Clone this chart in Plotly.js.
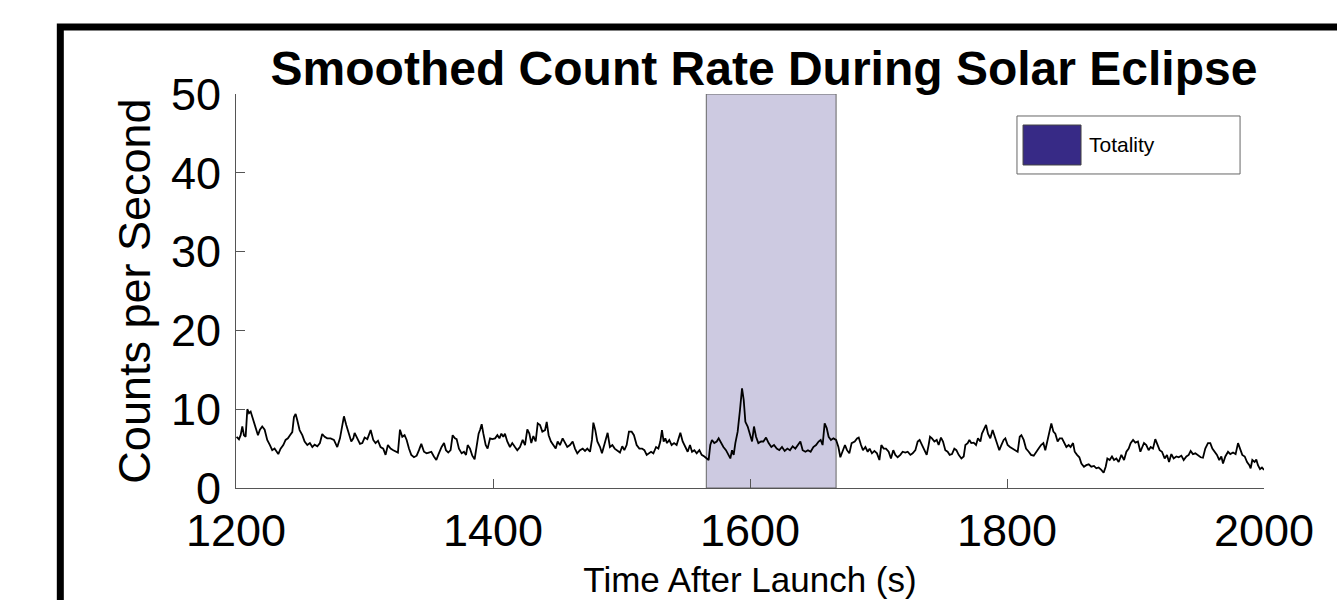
<!DOCTYPE html>
<html>
<head>
<meta charset="utf-8">
<script src="https://cdn.plot.ly/plotly-3.0.1.min.js"></script>
<style>
  html, body { margin: 0; padding: 0; background: #ffffff; }
  #chart { width: 1337px; height: 600px; }
</style>
</head>
<body>
<div id="chart"></div>
<script>
// Time after launch (s)
const timeSeconds = [
  1200.5,1202.3,1203.6,1204.9,1206.2,1207.5,1208.8,1210.1,1211.4,1212.7,1214.0,1215.3,1217.1,1218.6,1220.4,1222.3,1224.3,1226.4,1228.2,1230.0,
  1231.6,1232.9,1234.7,1236.8,1238.6,1240.4,1242.0,1243.8,1245.1,1246.4,1247.7,1249.5,1251.6,1253.4,1255.5,1257.5,1259.4,1261.2,1263.3,1265.3,
  1267.1,1269.0,1271.0,1273.6,1276.2,1278.8,1280.9,1282.7,1284.0,1285.8,1287.9,1289.7,1291.3,1292.3,1294.4,1296.5,1298.3,1300.1,1302.2,1303.5,
  1304.8,1306.8,1308.6,1310.5,1312.5,1314.6,1316.4,1318.2,1320.3,1322.4,1324.2,1326.0,1327.6,1329.4,1331.2,1332.8,1334.6,1336.4,1338.5,1340.6,
  1342.4,1344.2,1346.3,1348.3,1350.1,1352.0,1354.0,1355.9,1357.4,
  1358.8,1360.0,1361.9,1363.4,1365.2,1367.0,1368.6,1370.4,1371.7,1373.5,1375.6,1377.4,1379.0,1380.3,1382.1,1383.9,1385.7,1387.3,1388.8,1389.9,
  1391.2,1392.5,1394.3,1395.8,1397.7,1399.5,1401.6,1403.4,1405.0,1406.5,1408.0,1409.3,1411.1,1413.2,1415.0,1417.1,1418.9,1421.0,1423.1,1424.9,
  1426.7,1428.3,1429.8,1431.4,1433.2,1434.8,1436.6,1438.4,1440.5,1441.8,1443.3,1445.1,1447.0,1448.8,1450.3,1452.1,1454.2,1456.0,1457.8,1459.9,
  1462.0,1463.8,1465.6,1467.7,1469.8,1471.6,1473.4,1475.5,1477.0,1478.1,1479.6,1481.2,1483.3,1484.8,1486.4,1488.0,1489.2,1491.0,1492.9,1494.7,
  1496.8,1498.8,1500.6,1502.2,1504.0,1505.8,1507.9,1509.7,1511.8,1513.9,1516.0,1517.8,1519.6,1521.7,
  1523.0,1524.8,1526.9,1528.7,1530.2,1531.5,1532.8,1534.1,1535.4,1537.2,1539.0,1540.9,1542.9,1544.5,1545.8,1547.6,1549.7,1551.5,1553.3,1554.9,
  1556.7,1558.5,1560.6,1562.4,1564.5,1566.3,1567.8,1569.1,1570.4,1572.2,1574.1,1575.6,1577.4,1579.3,1581.3,1583.1,1584.7,1586.0,1587.3,1588.6,
  1590.4,1592.2,1593.8,1595.1,1596.4,1598.2,1600.0,1601.6,1603.1,1604.7,1606.5,1608.6,1610.4,1612.5,1614.5,1616.6,1618.7,1620.8,1622.8,1624.9,
  1627.0,1629.1,1631.1,1633.2,1635.3,1637.1,1639.2,1641.0,1643.1,1645.1,1647.2,1649.3,1651.4,1653.4,1655.0,1656.5,1658.1,1659.7,1661.2,1663.0,
  1664.9,1667.0,1668.8,1670.3,1672.1,1673.9,1675.5,1677.3,1679.1,
  1681.5,1683.3,1684.6,1686.4,1687.9,1689.8,1691.6,1693.1,1694.9,1696.8,1698.8,1700.7,1702.2,1704.0,1705.8,1707.9,1709.7,1711.5,1713.1,1714.9,
  1717.0,1718.8,1720.9,1722.7,1724.8,1726.6,1728.7,1730.5,1732.0,1733.9,1735.7,1737.5,1739.0,1740.1,1741.6,1743.5,1745.3,1746.8,1748.6,1750.2,
  1752.0,1753.8,1755.4,1757.2,1759.0,1760.6,1762.4,1764.5,1766.3,1767.6,1769.4,1770.7,1772.2,1774.1,1775.9,1777.4,1779.3,1780.5,1781.8,1783.7,
  1785.2,1787.0,1788.8,1790.4,1792.2,1794.0,1795.6,1797.4,1798.7,1800.5,1802.3,1804.4,1806.5,1808.3,1809.9,1811.2,1813.0,1814.8,1816.9,1818.7,
  1820.8,1822.6,1824.6,1826.5,1828.3,1829.8,1831.4,1832.9,1834.5,1836.1,1837.6,1839.4,
  1841.0,1842.8,1844.4,1846.2,1848.0,1849.5,1851.4,1852.7,1854.5,1856.3,1857.9,1859.9,1861.7,1863.6,1865.6,1867.7,1869.5,1871.3,1873.4,1875.2,
  1876.8,1878.1,1879.9,1881.7,1883.3,1885.1,1886.9,1889.0,1891.1,1892.9,1894.7,1896.2,1898.1,1899.9,1901.9,1903.8,1905.3,1906.6,1908.4,1910.2,
  1911.8,1913.6,1915.4,1917.0,1918.8,1920.6,1922.7,1924.5,1926.1,1927.9,1929.7,1931.8,1933.6,1935.7,1937.5,1939.6,1941.4,1942.9,1944.7,1946.6,
  1948.6,1950.7,1952.5,1954.3,1956.4,1958.2,1959.8,1961.6,1963.4,1965.2,1966.8,1968.1,1969.9,1972.0,1973.8,1975.9,1977.9,1979.8,1981.6,1983.1,
  1985.0,1986.8,1988.6,1989.6,1990.9,1992.7,1994.0,1995.3,1996.9,1998.4,2000.0
];

// Smoothed counts per second
const countsPerSecond = [
  6.5,6.17,6.7,7.8,6.7,6.5,10.0,9.5,9.7,9.0,8.2,7.6,6.7,7.4,7.8,7.4,6.1,5.45,4.8,5.0,
  4.6,4.3,5.0,5.45,6.1,6.3,6.7,7.1,9.0,9.4,8.6,7.35,6.7,5.9,5.45,5.7,5.2,5.5,5.3,5.7,
  6.85,6.5,6.3,6.3,6.1,5.2,6.3,8.2,9.1,8.0,6.7,5.9,6.3,7.0,6.3,5.6,5.7,6.4,6.2,6.9,
  7.35,6.1,5.7,6.0,5.2,5.0,4.2,5.45,5.0,4.8,4.6,4.5,7.4,6.5,6.7,6.1,5.0,4.2,3.9,4.1,
  4.8,5.6,4.6,4.4,4.5,4.6,4.0,3.55,4.2,
  4.8,5.2,5.7,4.8,4.5,4.8,6.7,6.3,6.2,5.0,4.4,4.6,4.2,5.45,5.0,4.1,3.65,5.45,6.9,7.35,
  8.1,6.9,5.45,5.0,6.3,6.2,6.3,6.7,6.3,6.9,6.5,6.9,5.9,5.2,5.7,5.2,4.8,5.2,6.1,5.45,
  7.45,6.9,5.7,6.6,5.9,8.2,8.0,7.15,7.35,8.4,6.7,5.9,5.45,5.0,5.9,5.45,6.3,5.7,5.2,5.45,
  5.9,5.0,4.4,4.8,5.0,4.7,5.0,4.6,6.1,8.3,7.35,5.9,5.2,4.4,5.45,6.3,7.0,5.2,5.45,5.0,
  4.8,4.5,5.3,4.8,5.45,7.15,7.15,6.7,5.45,5.0,5.0,4.8,4.2,4.4,
  4.6,4.4,5.2,5.0,5.9,7.35,5.9,6.3,5.7,6.1,5.45,5.7,5.45,6.3,7.0,5.9,5.2,4.6,5.45,4.6,
  4.8,4.4,4.8,4.2,4.0,3.75,3.55,5.45,6.1,5.7,5.9,6.3,5.7,5.2,4.8,4.2,3.75,4.8,4.2,5.7,
  7.15,9.9,12.65,11.2,8.4,7.8,6.7,5.9,7.8,6.5,5.7,5.9,5.9,6.4,5.7,5.2,5.45,5.0,4.8,5.2,
  4.7,5.0,4.8,5.3,5.0,5.45,5.9,4.8,4.6,4.8,4.6,5.2,5.45,5.9,6.1,5.45,8.2,7.6,6.5,6.1,
  6.3,6.1,5.2,3.9,4.8,5.45,4.8,4.4,5.7,
  5.9,6.3,6.4,5.45,4.8,5.2,4.6,5.0,4.4,4.7,4.4,3.55,5.45,5.0,5.0,4.6,3.75,4.8,4.2,3.9,
  4.2,4.6,4.5,4.6,4.2,4.4,4.8,5.9,6.1,5.45,4.8,4.2,5.45,6.5,6.3,5.9,6.1,5.45,6.4,5.9,
  4.8,4.6,4.2,4.3,5.0,4.8,4.2,3.75,4.0,5.45,5.7,6.1,5.7,5.75,5.45,6.3,5.9,6.9,7.35,8.0,
  6.9,6.3,7.35,6.5,5.45,4.8,5.45,6.1,6.3,5.45,5.2,5.0,4.8,4.6,6.5,6.7,6.1,5.0,4.6,4.2,
  4.1,4.6,5.0,5.45,5.7,4.8,5.9,6.9,8.2,7.15,6.9,5.9,
  6.3,6.3,5.75,5.2,5.45,5.2,5.7,4.6,4.2,3.9,3.1,2.7,2.9,3.0,2.7,2.8,2.5,2.6,2.3,1.94,
  2.7,3.75,3.55,4.0,3.55,3.75,3.3,4.2,3.55,4.6,5.0,5.7,6.1,5.75,5.9,4.6,5.2,5.7,5.45,4.8,
  5.2,5.0,6.2,5.45,4.8,4.6,3.75,4.2,3.3,4.3,3.75,4.0,3.9,4.1,3.55,4.0,4.2,4.7,4.3,4.4,
  4.2,3.9,3.85,5.0,5.7,5.7,5.0,4.6,4.2,3.55,4.0,3.1,4.0,4.6,4.3,4.5,4.3,5.7,5.0,4.2,
  4.0,3.3,2.9,2.5,3.55,3.3,3.6,2.9,2.4,2.6,2.3
];

// Totality interval (s)
const totalityStart = 1566;
const totalityEnd = 1667;

const xTickValues = [1200, 1400, 1600, 1800, 2000];
const xTickLabels = ['1200', '1400', '1600', '1800', '2000'];
const yTickValues = [0, 10, 20, 30, 40, 50];
const yTickLabels = ['0', '10', '20', '30', '40', '50'];

const FONT = 'Liberation Sans, Arial, Helvetica, sans-serif';

const traces = [{
  type: 'scatter',
  mode: 'lines',
  x: timeSeconds,
  y: countsPerSecond,
  line: { color: '#000000', width: 1.8 },
  showlegend: false,
  hoverinfo: 'x+y'
}];

const layout = {
  width: 1337,
  height: 600,
  margin: { l: 236, r: 73, t: 94, b: 112, pad: 0 },
  paper_bgcolor: '#ffffff',
  plot_bgcolor: '#ffffff',
  showlegend: false,
  font: { family: FONT, color: '#000000' },
  title: {
    text: '<b>Smoothed Count Rate During Solar Eclipse</b>',
    font: { family: FONT, size: 48, color: '#000000' },
    x: 0.5136, xanchor: 'center', xref: 'paper',
    y: 0.887, yanchor: 'middle'
  },
  xaxis: {
    range: [1200, 2000],
    tickmode: 'array',
    tickvals: xTickValues,
    ticktext: xTickLabels,
    ticks: 'inside',
    ticklen: 9,
    tickwidth: 1,
    tickcolor: '#555555',
    showline: true,
    linecolor: '#555555',
    linewidth: 1,
    mirror: false,
    showgrid: false,
    zeroline: false,
    ticklabelstandoff: 3,
    tickfont: { family: FONT, size: 45, color: '#000000' },
    title: {
      text: 'Time After Launch (s)',
      font: { family: FONT, size: 35, color: '#000000' },
      standoff: 12
    }
  },
  yaxis: {
    range: [0, 50],
    tickmode: 'array',
    tickvals: yTickValues,
    ticktext: yTickLabels,
    ticks: 'inside',
    ticklen: 9,
    tickwidth: 1,
    tickcolor: '#555555',
    showline: true,
    linecolor: '#555555',
    linewidth: 1,
    mirror: false,
    showgrid: false,
    zeroline: false,
    ticklabelstandoff: 5,
    tickfont: { family: FONT, size: 45, color: '#000000' },
    title: {
      text: 'Counts per Second',
      font: { family: FONT, size: 45, color: '#000000' },
      standoff: 6
    }
  },
  shapes: [
    {
      type: 'rect', xref: 'x', yref: 'y',
      x0: totalityStart, x1: totalityEnd, y0: 0, y1: 50,
      fillcolor: 'rgba(55,42,134,0.25)',
      line: { color: '#666666', width: 1 },
      layer: 'below'
    },
    // legend box
    {
      type: 'rect', xref: 'paper', yref: 'paper',
      x0: 0.7597, x1: 0.9767, y0: 0.7970, y1: 0.9442,
      fillcolor: '#ffffff',
      line: { color: '#666666', width: 1 }
    },
    // legend swatch
    {
      type: 'rect', xref: 'paper', yref: 'paper',
      x0: 0.7656, x1: 0.8220, y0: 0.8198, y1: 0.9213,
      fillcolor: '#372a86',
      line: { color: '#444444', width: 1 }
    },
    // outer figure frame
    {
      type: 'rect', xref: 'paper', yref: 'paper',
      x0: -0.1709, x1: 1.09, y0: -0.35, y1: 1.170,
      fillcolor: 'rgba(0,0,0,0)',
      line: { color: '#000000', width: 7 }
    }
  ],
  annotations: [
    {
      xref: 'paper', yref: 'paper',
      x: 0.8278, y: 0.8706, xanchor: 'left', yanchor: 'middle',
      text: 'Totality', showarrow: false,
      font: { family: FONT, size: 21, color: '#000000' }
    }
  ]
};

Plotly.newPlot('chart', traces, layout, { staticPlot: true, displayModeBar: false });
</script>
</body>
</html>
